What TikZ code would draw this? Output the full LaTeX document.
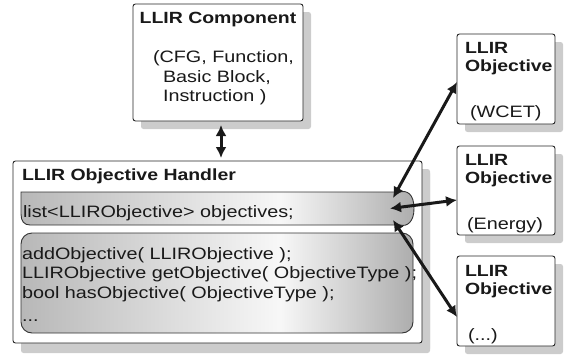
\documentclass[tikz,border=0pt]{standalone}
\usepackage{fontspec}
\setmainfont{Liberation Sans}[FakeStretch=1.2]
\usetikzlibrary{shadows,calc,arrows.meta}
\pgfdeclarehorizontalshading{objshade}{100bp}{color(0bp)=(black!28); color(25bp)=(black!28); color(58bp)=(black!3); color(75bp)=(black!32); color(100bp)=(black!32)}
\tikzset{
  x=1pt, y=-1pt,
  every node/.style={inner sep=0pt, outer sep=0pt},
  txt/.style={anchor=base west, font=\fontsize{16.5}{20}\selectfont, text=black!90},
  ttl/.style={txt, font=\fontsize{16.2}{20}\selectfont\bfseries},
  box/.style={draw=black!85, line width=0.9pt, fill=white, rounded corners=2.5pt,
    drop shadow={shadow xshift=8pt, shadow yshift=-8pt, fill=black!20, opacity=1}},
  inner/.style={draw=black!80, line width=0.9pt, shading=objshade},
  link/.style={draw=black!90, line width=3pt, {Latex[length=11pt,width=11pt]}-{Latex[length=11pt,width=11pt]}}
}
\begin{document}
\begin{tikzpicture}
\useasboundingbox (0,0) rectangle (564,356);
% boxes
\node[box, minimum width=170pt, minimum height=117pt] (comp) at (218,62.5) {};
\node[box, minimum width=409pt, minimum height=182pt,
  drop shadow={shadow xshift=8pt, shadow yshift=-10pt, fill=black!20, opacity=1}] (handler) at (217.5,252) {};
\node[box, minimum width=98pt, minimum height=90pt] (obj1) at (506,79) {};
\node[box, minimum width=98pt, minimum height=89pt] (obj2) at (506,190.5) {};
\node[box, minimum width=98pt, minimum height=90pt] (obj3) at (506,301) {};
% list shape
\path[inner] (21,192) -- (400,192) .. controls (407,190) and (414,194) .. (414,208.5)
  .. controls (414,222) and (407,227) .. (400,225) -- (30,225)
  .. controls (24,225) and (21,221) .. (21,214) -- cycle;
\coordinate (list) at (217.5,208.5);
\coordinate (liste) at (414,208.5);
% methods shape
\path[inner, rounded corners=11pt] (21,233) rectangle (413,333);
% texts
\node[ttl, anchor=base] (ctitle) at (218,23) {LLIR Component};
\node[txt] (c1) at (153,62) {(CFG, Function,};
\node[txt] (c2) at (163,82) {Basic Block,};
\node[txt] (c3) at (163,101) {Instruction )};
\node[ttl] (htitle) at (22,180) {LLIR Objective Handler};
\node[txt] (ltext) at (23,217) {list<LLIRObjective> objectives;};
\node[txt] (m1) at (22,259) {addObjective( LLIRObjective );};
\node[txt] (m2) at (22,278.5) {LLIRObjective getObjective( ObjectiveType );};
\node[txt] (m3) at (22,298) {bool hasObjective( ObjectiveType );};
\node[txt] (m4) at (22,321) {...};
\node[ttl] (o1a) at (465,53.5) {LLIR};
\node[ttl] (o1b) at (465,71) {Objective};
\node[txt] (o1c) at (470,117) {(WCET)};
\node[ttl] (o2a) at (465,165) {LLIR};
\node[ttl] (o2b) at (465,183) {Objective};
\node[txt] (o2c) at (467,229) {(Energy)};
\node[ttl] (o3a) at (465,276) {LLIR};
\node[ttl] (o3b) at (465,294) {Objective};
\node[txt] (o3c) at (468,340) {(...)};
% connectors
\draw[link] ($(comp.south)+(3,4)$) -- ($(handler.north)+(3.5,-3)$);
\draw[link] ($(liste)+(-21,-10.5)$) -- ($(obj1.west)+(0,3)$);
\draw[link] ($(liste)+(-24,0)$) -- ($(obj2.west)+(0,9.5)$);
\draw[link] ($(liste)+(-21,11.5)$) -- ($(obj3.west)+(0,16)$);
\end{tikzpicture}
\end{document}
